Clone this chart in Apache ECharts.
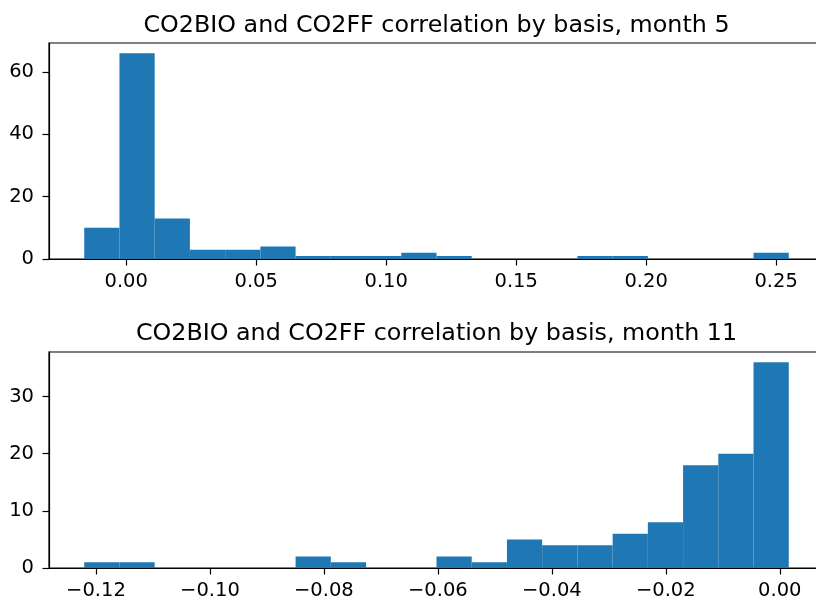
<!DOCTYPE html>
<html>
<head>
<meta charset="utf-8">
<script src="https://cdn.jsdelivr.net/npm/echarts@6/dist/echarts.min.js"></script>
<style>html,body{margin:0;padding:0;background:#fff;overflow:hidden;width:816px;height:601px}#c{width:840px;height:601px}</style>
</head>
<body>
<div id="c"></div>
<script>
// Month 5 histogram
const titleTop = 'CO2BIO and CO2FF correlation by basis, month 5';
const edgesTop = [-0.01615, -0.00260, 0.01095, 0.02450, 0.03805, 0.05160, 0.06515, 0.07870, 0.09225, 0.10580,
  0.11935, 0.13290, 0.14645, 0.16000, 0.17355, 0.18710, 0.20065, 0.21420, 0.22775, 0.24130, 0.25485];
const countsTop = [10, 66, 13, 3, 3, 4, 1, 1, 1, 2, 1, 0, 0, 0, 1, 1, 0, 0, 0, 2];
const xTicksTop = [0, 0.05, 0.10, 0.15, 0.20, 0.25];
const yTicksTop = [0, 20, 40, 60];
const xRangeTop = [-0.0297, 0.2684];
const yMaxTop = 69.3;

// Month 11 histogram
const titleBot = 'CO2BIO and CO2FF correlation by basis, month 11';
const edgesBot = [-0.12206, -0.11588, -0.10970, -0.10351, -0.09733, -0.09115, -0.08497, -0.07879, -0.07260, -0.06642,
  -0.06024, -0.05406, -0.04788, -0.04170, -0.03551, -0.02933, -0.02315, -0.01697, -0.01079, -0.00461, 0.00158];
const countsBot = [1, 1, 0, 0, 0, 0, 2, 1, 0, 0, 2, 1, 5, 4, 4, 6, 8, 18, 20, 36];
const xTicksBot = [-0.12, -0.10, -0.08, -0.06, -0.04, -0.02, 0.00];
const yTicksBot = [0, 10, 20, 30];
const xRangeBot = [-0.12824, 0.00776];
const yMaxBot = 37.8;

const FONT = 'DejaVu Sans';
const TICK_FS = 19.5;
const TITLE_FS = 23.8;
const BAR_COLOR = '#1f77b4';

function histData(edges, counts) {
  return counts.map((c, i) => [edges[i], edges[i + 1], c]);
}
function fmt(v) {
  const s = Math.abs(v) < 1e-12 ? '0.00' : v.toFixed(2);
  return s.replace('-', '\u2212');
}
function xAxis(gridIndex, range, ticks) {
  return {
    type: 'value', gridIndex, min: range[0], max: range[1],
    axisLine: { show: true, onZero: false, lineStyle: { color: '#000', width: 1.2 } },
    axisTick: { show: true, length: 6.5, lineStyle: { color: '#000', width: 1.2 }, customValues: ticks },
    axisLabel: { color: '#000', fontFamily: FONT, fontSize: TICK_FS, margin: 13, customValues: ticks, formatter: fmt },
    splitLine: { show: false }
  };
}
function yAxis(gridIndex, max, ticks) {
  return {
    type: 'value', gridIndex, min: 0, max: max,
    axisLine: { show: true, onZero: false, lineStyle: { color: '#000', width: 1.2 } },
    axisTick: { show: true, length: 6.5, lineStyle: { color: '#000', width: 1.2 }, customValues: ticks },
    axisLabel: { color: '#000', fontFamily: FONT, fontSize: TICK_FS, margin: 15, customValues: ticks, formatter: v => String(v) },
    splitLine: { show: false }
  };
}
function renderBar(params, api) {
  const x0 = api.value(0), x1 = api.value(1), c = api.value(2);
  if (!c) return null;
  const p0 = api.coord([x0, c]);
  const p1 = api.coord([x1, 0]);
  return {
    type: 'rect',
    shape: { x: p0[0], y: p0[1], width: p1[0] - p0[0], height: p1[1] - p0[1] },
    style: { fill: BAR_COLOR, stroke: null }
  };
}

const chart = echarts.init(document.getElementById('c'), null, { renderer: 'canvas' });
chart.setOption({
  animation: false,
  backgroundColor: '#fff',
  title: [
    { text: titleTop, left: 431.5, top: 9, textAlign: 'center',
      textStyle: { fontFamily: FONT, fontSize: TITLE_FS, fontWeight: 'normal', color: '#000' } },
    { text: titleBot, left: 431.5, top: 317, textAlign: 'center',
      textStyle: { fontFamily: FONT, fontSize: TITLE_FS, fontWeight: 'normal', color: '#000' } }
  ],
  grid: [
    { left: 49, top: 43, width: 775, height: 216, show: true, borderColor: '#000', borderWidth: 1.2, backgroundColor: 'transparent' },
    { left: 49, top: 352, width: 775, height: 217, show: true, borderColor: '#000', borderWidth: 1.2, backgroundColor: 'transparent' }
  ],
  xAxis: [xAxis(0, xRangeTop, xTicksTop), xAxis(1, xRangeBot, xTicksBot)],
  yAxis: [yAxis(0, yMaxTop, yTicksTop), yAxis(1, yMaxBot, yTicksBot)],
  series: [
    { type: 'custom', xAxisIndex: 0, yAxisIndex: 0, renderItem: renderBar,
      encode: { x: [0, 1], y: 2 }, data: histData(edgesTop, countsTop) },
    { type: 'custom', xAxisIndex: 1, yAxisIndex: 1, renderItem: renderBar,
      encode: { x: [0, 1], y: 2 }, data: histData(edgesBot, countsBot) }
  ]
});
</script>
</body>
</html>
